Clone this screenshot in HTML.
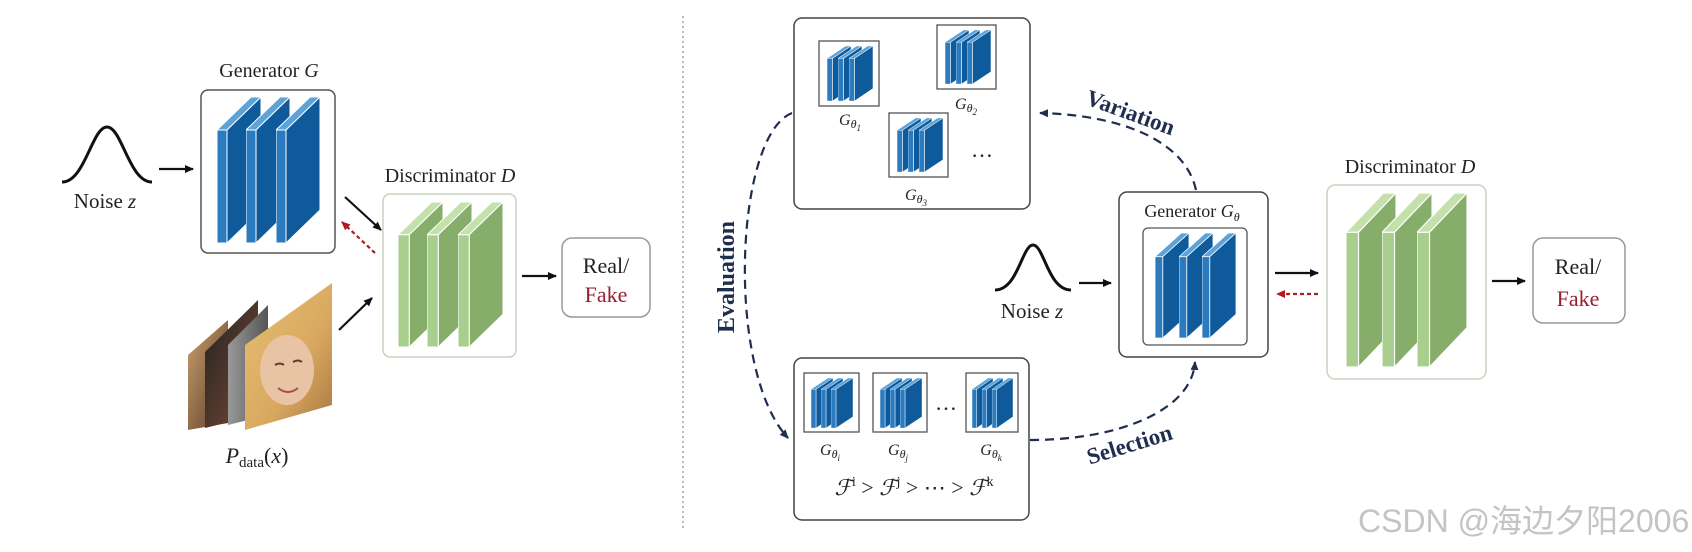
<!DOCTYPE html>
<html><head><meta charset="utf-8"><style>
html,body{margin:0;padding:0;background:#fff;}
svg{display:block;}
text{font-family:"Liberation Serif",serif;fill:#222;}
</style></head><body>
<svg width="1692" height="552" viewBox="0 0 1692 552" xmlns="http://www.w3.org/2000/svg">
<defs>
<symbol id="bs" viewBox="0 0 44 146" preserveAspectRatio="none">
<polygon points="0,33 10,33 44,0 34,0" fill="#5ba3d9" stroke="#fff" stroke-width="1"/>
<polygon points="10,33 44,0 44,113 10,146" fill="#0f5a9a" stroke="#fff" stroke-width="1"/>
<rect x="0" y="33" width="10" height="113" fill="#2a7bbf" stroke="#fff" stroke-width="1"/>
</symbol>
<symbol id="gs" viewBox="0 0 44 146" preserveAspectRatio="none">
<polygon points="0,33 11,33 44,0 33,0" fill="#c4e0ab" stroke="#fff" stroke-width="1"/>
<polygon points="11,33 44,0 44,113 11,146" fill="#86ad6a" stroke="#fff" stroke-width="1"/>
<rect x="0" y="33" width="11" height="113" fill="#a9cf8e" stroke="#fff" stroke-width="1"/>
</symbol>
<marker id="ak" markerWidth="10" markerHeight="10" refX="8" refY="5" orient="auto" markerUnits="userSpaceOnUse"><path d="M0,1 L9,5 L0,9 Z" fill="#111"/></marker>
<marker id="ar" markerWidth="10" markerHeight="10" refX="8" refY="5" orient="auto" markerUnits="userSpaceOnUse"><path d="M0,1 L9,5 L0,9 Z" fill="#b01c22"/></marker>
<marker id="an" markerWidth="10" markerHeight="10" refX="8" refY="5" orient="auto" markerUnits="userSpaceOnUse"><path d="M0,1 L9,5 L0,9 Z" fill="#1f2d4f"/></marker>
<linearGradient id="f1" x1="0" y1="0" x2="1" y2="1"><stop offset="0" stop-color="#c9a070"/><stop offset="1" stop-color="#5a3a22"/></linearGradient>
<linearGradient id="f2" x1="0" y1="0" x2="1" y2="1"><stop offset="0" stop-color="#222"/><stop offset="1" stop-color="#7a4a35"/></linearGradient>
<linearGradient id="f3" x1="0" y1="0" x2="1" y2="0"><stop offset="0" stop-color="#999"/><stop offset="1" stop-color="#555"/></linearGradient>
<linearGradient id="f4" x1="0" y1="0" x2="1" y2="1"><stop offset="0" stop-color="#e6c070"/><stop offset="0.6" stop-color="#d9a860"/><stop offset="1" stop-color="#a87840"/></linearGradient>
</defs>

<line x1="683" y1="16" x2="683" y2="528" stroke="#888" stroke-width="1.2" stroke-dasharray="2,3"/>

<path d="M62,182 C85,182 92,127 107,127 C122,127 129,182 152,182" fill="none" stroke="#111" stroke-width="3"/>
<text x="105" y="208" font-size="21" text-anchor="middle">Noise <tspan font-style="italic">z</tspan></text>
<line x1="159" y1="169" x2="193" y2="169" stroke="#111" stroke-width="2.2" marker-end="url(#ak)"/>

<text x="269" y="77" font-size="20" text-anchor="middle">Generator <tspan font-style="italic">G</tspan></text>
<rect x="201" y="90" width="134" height="163" rx="7" fill="#fff" stroke="#555" stroke-width="1.5"/>
<use href="#bs" x="217" y="97" width="44" height="146"/>
<use href="#bs" x="246" y="97" width="44" height="146"/>
<use href="#bs" x="276" y="97" width="44" height="146"/>

<text x="450" y="182" font-size="20" text-anchor="middle">Discriminator <tspan font-style="italic">D</tspan></text>
<rect x="383" y="194" width="133" height="163" rx="7" fill="#fff" stroke="#c8d4c0" stroke-width="1.5"/>
<use href="#gs" x="398" y="202" width="45" height="145"/>
<use href="#gs" x="427" y="202" width="45" height="145"/>
<use href="#gs" x="458" y="202" width="45" height="145"/>

<line x1="345" y1="197" x2="381" y2="230" stroke="#111" stroke-width="2.2" marker-end="url(#ak)"/>
<line x1="375" y1="253" x2="342" y2="222" stroke="#b01c22" stroke-width="2.2" stroke-dasharray="4,3" marker-end="url(#ar)"/>
<line x1="339" y1="330" x2="372" y2="298" stroke="#111" stroke-width="2.2" marker-end="url(#ak)"/>
<line x1="522" y1="276" x2="556" y2="276" stroke="#111" stroke-width="2.2" marker-end="url(#ak)"/>

<rect x="562" y="238" width="88" height="79" rx="10" fill="#fff" stroke="#999" stroke-width="1.5"/>
<text x="606" y="273" font-size="22" text-anchor="middle">Real/</text>
<text x="606" y="302" font-size="22" text-anchor="middle" style="fill:#9a1e2e">Fake</text>

<polygon points="188,355 228,320 228,423 188,430" fill="url(#f1)"/>
<polygon points="205,352 258,300 258,415 205,428" fill="url(#f2)"/>
<polygon points="228,345 268,305 268,415 228,425" fill="url(#f3)"/>
<polygon points="245,345 332,283 332,405 245,430" fill="url(#f4)"/>
<ellipse cx="287" cy="370" rx="27" ry="35" fill="#e8c4a4"/>
<path d="M275,365 q5,-3 9,0 M293,362 q5,-3 9,0" stroke="#5a4030" stroke-width="2" fill="none"/>
<path d="M278,388 q10,8 20,0" stroke="#a05050" stroke-width="2" fill="none"/>
<text x="257" y="463" font-size="22" text-anchor="middle"><tspan font-style="italic">P</tspan><tspan font-size="15" dy="4">data</tspan><tspan dy="-4">(</tspan><tspan font-style="italic">x</tspan>)</text>

<rect x="794" y="18" width="236" height="191" rx="8" fill="#fff" stroke="#444" stroke-width="1.5"/>
<rect x="819" y="41" width="60" height="65" fill="#fff" stroke="#555" stroke-width="1.3"/>
<use href="#bs" x="827" y="46" width="24" height="55"/>
<use href="#bs" x="838" y="46" width="24" height="55"/>
<use href="#bs" x="849" y="46" width="24" height="55"/>
<rect x="937" y="25" width="59" height="64" fill="#fff" stroke="#555" stroke-width="1.3"/>
<use href="#bs" x="945" y="30" width="24" height="54"/>
<use href="#bs" x="956" y="30" width="24" height="54"/>
<use href="#bs" x="967" y="30" width="24" height="54"/>
<rect x="889" y="113" width="59" height="64" fill="#fff" stroke="#555" stroke-width="1.3"/>
<use href="#bs" x="897" y="118" width="24" height="54"/>
<use href="#bs" x="908" y="118" width="24" height="54"/>
<use href="#bs" x="919" y="118" width="24" height="54"/>
<text x="850" y="125" font-size="16" text-anchor="middle" font-style="italic">G<tspan font-size="12" dy="3">θ</tspan><tspan font-size="9" dy="3">1</tspan></text>
<text x="966" y="109" font-size="16" text-anchor="middle" font-style="italic">G<tspan font-size="12" dy="3">θ</tspan><tspan font-size="9" dy="3">2</tspan></text>
<text x="916" y="200" font-size="16" text-anchor="middle" font-style="italic">G<tspan font-size="12" dy="3">θ</tspan><tspan font-size="9" dy="3">3</tspan></text>
<text x="982" y="157" font-size="22" text-anchor="middle">…</text>

<rect x="794" y="358" width="235" height="162" rx="8" fill="#fff" stroke="#444" stroke-width="1.5"/>
<rect x="804" y="373" width="55" height="59" fill="#fff" stroke="#555" stroke-width="1.3"/>
<use href="#bs" x="811" y="378" width="22" height="50"/>
<use href="#bs" x="821" y="378" width="22" height="50"/>
<use href="#bs" x="831" y="378" width="22" height="50"/>
<rect x="873" y="373" width="54" height="59" fill="#fff" stroke="#555" stroke-width="1.3"/>
<use href="#bs" x="880" y="378" width="22" height="50"/>
<use href="#bs" x="890" y="378" width="22" height="50"/>
<use href="#bs" x="900" y="378" width="22" height="50"/>
<rect x="966" y="373" width="52" height="59" fill="#fff" stroke="#555" stroke-width="1.3"/>
<use href="#bs" x="972" y="378" width="21" height="50"/>
<use href="#bs" x="982" y="378" width="21" height="50"/>
<use href="#bs" x="992" y="378" width="21" height="50"/>
<text x="946" y="410" font-size="22" text-anchor="middle">…</text>
<text x="830" y="455" font-size="16" text-anchor="middle" font-style="italic">G<tspan font-size="12" dy="3">θ</tspan><tspan font-size="9" dy="3">i</tspan></text>
<text x="898" y="455" font-size="16" text-anchor="middle" font-style="italic">G<tspan font-size="12" dy="3">θ</tspan><tspan font-size="9" dy="3">j</tspan></text>
<text x="991" y="455" font-size="16" text-anchor="middle" font-style="italic">G<tspan font-size="12" dy="3">θ</tspan><tspan font-size="9" dy="3">k</tspan></text>
<text x="914" y="495" font-size="22" text-anchor="middle"><tspan font-style="italic">ℱ</tspan><tspan font-size="14" dy="-9">i</tspan><tspan dy="9"> &gt; </tspan><tspan font-style="italic">ℱ</tspan><tspan font-size="14" dy="-9">j</tspan><tspan dy="9"> &gt; ⋯ &gt; </tspan><tspan font-style="italic">ℱ</tspan><tspan font-size="14" dy="-9">k</tspan></text>

<path d="M1196,190 C1185,140 1120,115 1040,113" fill="none" stroke="#1f2d4f" stroke-width="2.2" stroke-dasharray="9,6" marker-end="url(#an)"/>
<path d="M792,113 C735,135 725,370 788,438" fill="none" stroke="#1f2d4f" stroke-width="2.2" stroke-dasharray="9,6" marker-end="url(#an)"/>
<path d="M1030,440 C1120,440 1192,410 1195,362" fill="none" stroke="#1f2d4f" stroke-width="2.2" stroke-dasharray="9,6" marker-end="url(#an)"/>
<text x="1130" y="120" font-size="23" font-weight="bold" text-anchor="middle" transform="rotate(20 1130 114)" style="fill:#1f2d4f">Variation</text>
<text x="1130" y="452" font-size="23" font-weight="bold" text-anchor="middle" transform="rotate(-17 1130 446)" style="fill:#1f2d4f">Selection</text>
<text x="727" y="284" font-size="24" font-weight="bold" text-anchor="middle" transform="rotate(-90 727 277)" style="fill:#1f2d4f">Evaluation</text>

<path d="M995,290 C1018,290 1022,245 1033,245 C1044,245 1048,290 1071,290" fill="none" stroke="#111" stroke-width="3"/>
<text x="1032" y="318" font-size="21" text-anchor="middle">Noise <tspan font-style="italic">z</tspan></text>
<line x1="1079" y1="283" x2="1111" y2="283" stroke="#111" stroke-width="2.2" marker-end="url(#ak)"/>

<rect x="1119" y="192" width="149" height="165" rx="8" fill="#fff" stroke="#444" stroke-width="1.5"/>
<text x="1192" y="217" font-size="18" text-anchor="middle">Generator <tspan font-style="italic">G</tspan><tspan font-size="12" dy="4" font-style="italic">θ</tspan></text>
<rect x="1143" y="228" width="104" height="117" rx="5" fill="#fff" stroke="#555" stroke-width="1.3"/>
<use href="#bs" x="1155" y="233" width="34" height="105"/>
<use href="#bs" x="1179" y="233" width="34" height="105"/>
<use href="#bs" x="1202" y="233" width="34" height="105"/>

<line x1="1275" y1="273" x2="1318" y2="273" stroke="#111" stroke-width="2.2" marker-end="url(#ak)"/>
<line x1="1318" y1="294" x2="1277" y2="294" stroke="#b01c22" stroke-width="2.2" stroke-dasharray="4,3" marker-end="url(#ar)"/>

<text x="1410" y="173" font-size="20" text-anchor="middle">Discriminator <tspan font-style="italic">D</tspan></text>
<rect x="1327" y="185" width="159" height="194" rx="8" fill="#fff" stroke="#c8d4c0" stroke-width="1.5"/>
<use href="#gs" x="1346" y="193" width="50" height="174"/>
<use href="#gs" x="1382" y="193" width="50" height="174"/>
<use href="#gs" x="1417" y="193" width="50" height="174"/>

<line x1="1492" y1="281" x2="1525" y2="281" stroke="#111" stroke-width="2.2" marker-end="url(#ak)"/>
<rect x="1533" y="238" width="92" height="85" rx="10" fill="#fff" stroke="#999" stroke-width="1.5"/>
<text x="1578" y="274" font-size="22" text-anchor="middle">Real/</text>
<text x="1578" y="306" font-size="22" text-anchor="middle" style="fill:#9a1e2e">Fake</text>

<text x="1358" y="532" font-size="32" style="fill:#c4c4c4;font-family:'Liberation Sans','Noto Sans CJK SC',sans-serif">CSDN @海边夕阳2006</text>
</svg>
</body></html>
